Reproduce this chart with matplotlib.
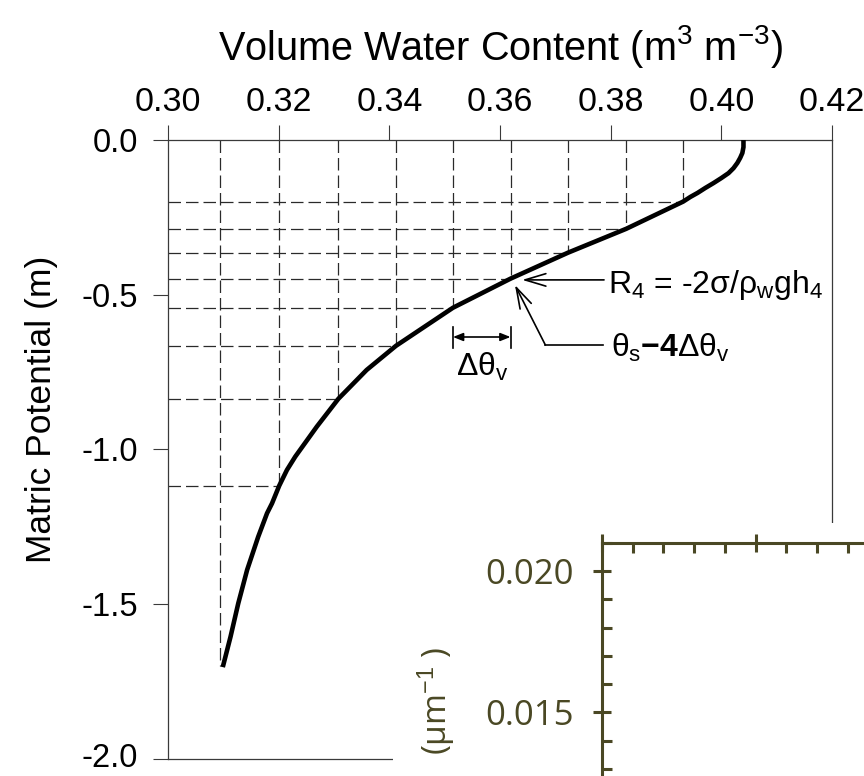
import matplotlib.pyplot as plt
from matplotlib.patches import Rectangle
from matplotlib.ticker import MultipleLocator
from matplotlib.transforms import ScaledTranslation

plt.rcParams["font.family"] = ["Liberation Sans", "DejaVu Sans"]
plt.rcParams["mathtext.fontset"] = "custom"
plt.rcParams["mathtext.rm"] = "Liberation Sans"
plt.rcParams["mathtext.it"] = "Liberation Sans"
plt.rcParams["mathtext.bf"] = "Liberation Sans:bold"
plt.rcParams["axes.unicode_minus"] = False
plt.rcParams["lines.scale_dashes"] = False

# retention curve
theta_curve = [0.4040, 0.4040, 0.4038, 0.4034, 0.4029, 0.4022, 0.4013, 0.4000,
               0.3986, 0.3971, 0.3957, 0.3944, 0.3931, 0.3828, 0.3723, 0.3619,
               0.3515, 0.3412, 0.3359, 0.3308, 0.3269, 0.3230, 0.3215, 0.3201,
               0.3188, 0.3179, 0.3163, 0.3143, 0.3127, 0.3113, 0.3100]
h_curve = [0.0, -0.023, -0.042, -0.058, -0.074, -0.091, -0.107, -0.123,
           -0.139, -0.155, -0.171, -0.184, -0.199, -0.287, -0.364, -0.448,
           -0.542, -0.665, -0.743, -0.836, -0.926, -1.023, -1.066, -1.117,
           -1.174, -1.206, -1.282, -1.389, -1.497, -1.605, -1.696]

# theta_s - k*dtheta steps and matching potentials
theta_steps = [0.3931, 0.3828, 0.3723, 0.3619, 0.3515, 0.3412, 0.3308, 0.3201, 0.3094]
h_steps = [-0.199, -0.287, -0.364, -0.448, -0.542, -0.665, -0.836, -1.117, -1.700]

x_ticks = [0.30, 0.32, 0.34, 0.36, 0.38, 0.40, 0.42]
x_labels = ["0.30", "0.32", "0.34", "0.36", "0.38", "0.40", "0.42"]
y_ticks = [0.0, -0.5, -1.0, -1.5, -2.0]
y_labels = ["0.0", "-0.5", "-1.0", "-1.5", "-2.0"]

inset_yticks = [0.015, 0.020]
inset_ylabels = ["0.015", "0.020"]

fig = plt.figure(figsize=(8.64, 7.76), dpi=100)
W, H = 864, 776
ax = fig.add_axes([168 / W, 1 - 759 / H, (832 - 168) / W, (759 - 140) / H])
ax.set_xlim(0.30, 0.42)
ax.set_ylim(-2.0, 0.0)

dash = dict(color="#2a2a2a", lw=0.9, linestyle=(0, (9, 3.6)))
for i, (th, h) in enumerate(zip(theta_steps, h_steps)):
    ax.plot([th, th], [0.0, h], **dash)
    if i < len(theta_steps) - 1:
        ax.plot([0.30, th], [h, h], **dash)

ax.plot(theta_curve, h_curve, color="black", lw=3.3, zorder=3,
        solid_joinstyle="round")

# annotations
ax.annotate("", xy=(0.3640, -0.452), xytext=(0.3788, -0.452),
            arrowprops=dict(arrowstyle="->,head_length=0.6,head_width=0.18",
                            lw=1.2, color="black", mutation_scale=25,
                            shrinkA=0, shrinkB=0))
ax.text(0.3796, -0.494, r"R$_4$ = -2σ/ρ$_\mathrm{w}$gh$_4$", fontsize=23,
        va="baseline", ha="left")

ax.plot([0.3682, 0.3787], [-0.6624, -0.6624], color="black", lw=1.2)
ax.annotate("", xy=(0.3627, -0.4685), xytext=(0.3682, -0.6624),
            arrowprops=dict(arrowstyle="->,head_length=0.6,head_width=0.18",
                            lw=1.2, color="black", mutation_scale=25,
                            shrinkA=0, shrinkB=0))
ax.text(0.3800, -0.700, r"$\theta_\mathrm{s}\mathbf{-4}\Delta\theta_\mathrm{v}$",
        fontsize=23, va="baseline", ha="left")

ax.annotate("", xy=(0.3515, -0.6365), xytext=(0.3619, -0.6365),
            arrowprops=dict(arrowstyle="<|-|>,head_length=0.5,head_width=0.2",
                            lw=1.2, color="black", mutation_scale=12,
                            shrinkA=0, shrinkB=0))
for xb in (0.3515, 0.3619):
    ax.plot([xb, xb], [-0.604, -0.672], color="black", lw=1.2)
ax.text(0.3567, -0.733, r"$\Delta\theta_\mathrm{v}$", fontsize=23,
        ha="center", va="center")

# axes styling
for s in ax.spines.values():
    s.set_color("#3a3a3a")
    s.set_linewidth(0.9)
ax.xaxis.tick_top()
ax.set_xticks(x_ticks)
ax.set_xticklabels(x_labels)
ax.set_yticks(y_ticks)
ax.set_yticklabels(y_labels)
ax.tick_params(axis="x", direction="out", length=10.8, width=0.8, pad=5,
               labelsize=24.5, color="#3a3a3a")
ax.tick_params(axis="y", direction="out", length=10.8, width=0.8, pad=11,
               labelsize=23.5, color="#3a3a3a", right=False)
# lift the bottom label a touch so it stays inside the canvas
last = ax.get_yticklabels()[-1]
last.set_transform(last.get_transform() +
                   ScaledTranslation(0, 4 / 100, fig.dpi_scale_trans))
ax.xaxis.set_label_position("top")
ax.set_xlabel(r"Volume Water Content (m$^3$ m$^{-3}$)", fontsize=28.5)
ax.xaxis.set_label_coords(0.5, 1.130)
ax.set_ylabel("Matric Potential (m)", fontsize=25.5)
ax.yaxis.set_label_coords(-0.166, 0.565)

# pasted second panel (cut off by the figure edge)
fig.add_artist(Rectangle((393 / W, 0), 1 - 393 / W, 1 - 523 / H,
                         transform=fig.transFigure, facecolor="white",
                         edgecolor="none", zorder=1))
olive = "#4a4824"
ax2 = fig.add_axes([602 / W, 1 - (542.7 + 594) / H, 614 / W, 594 / H], zorder=2)
ax2.set_xlim(0, 20)
ax2.set_ylim(0.0, 0.021)
ax2.xaxis.set_major_locator(MultipleLocator(5))
ax2.xaxis.set_minor_locator(MultipleLocator(1))
ax2.set_yticks(inset_yticks)
ax2.set_yticklabels(inset_ylabels)
ax2.yaxis.set_minor_locator(MultipleLocator(0.001))
for s in ax2.spines.values():
    s.set_color(olive)
    s.set_linewidth(2.2)
ax2.tick_params(axis="x", which="both", top=True, labeltop=False,
                bottom=False, labelbottom=False, color=olive, width=2.2)
ax2.tick_params(axis="x", which="major", direction="inout", length=13)
ax2.tick_params(axis="x", which="minor", direction="in", length=7)
ax2.tick_params(axis="y", which="both", color=olive, width=2.2,
                labelcolor=olive, labelsize=25, pad=14)
ax2.tick_params(axis="y", which="major", direction="inout", length=13)
ax2.tick_params(axis="y", which="minor", direction="in", length=7)
for lab in ax2.get_yticklabels():
    lab.set_family("Open Sans")
fig.text(437 / W, 1 - 647 / H, r"(μm$^{-1}$ )", rotation=90,
         ha="center", va="top", fontsize=24, color=olive, family="Open Sans")

fig.savefig("out.png", dpi=100)
